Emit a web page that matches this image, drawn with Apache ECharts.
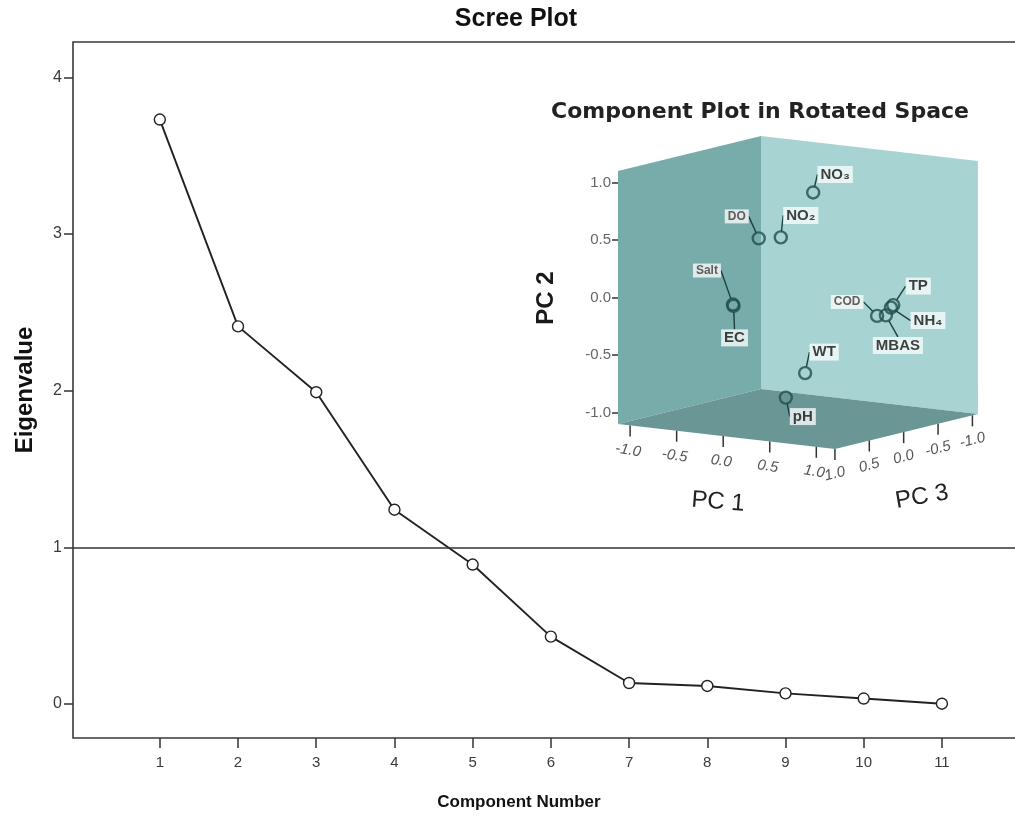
<!DOCTYPE html>
<html>
<head>
<meta charset="utf-8">
<script src="https://cdn.jsdelivr.net/npm/echarts@6/dist/echarts.min.js"></script>
<style>
html,body{margin:0;padding:0;background:#ffffff;}
#c{width:1015px;height:816px;}
</style>
</head>
<body>
<div id="c"></div>
<script>
// ---------- Scree plot data ----------
const components = [1, 2, 3, 4, 5, 6, 7, 8, 9, 10, 11];
const eigenvalues = [3.73, 2.41, 1.99, 1.24, 0.89, 0.43, 0.134, 0.115, 0.068, 0.035, 0.002];
const eigenTicks = [0, 1, 2, 3, 4];
const kaiserLine = 1;

// ---------- Component plot in rotated space (loadings) ----------
const variables = ['NO₃', 'DO', 'NO₂', 'Salt', 'EC', 'COD', 'MBAS', 'TP', 'NH₄', 'WT', 'pH'];
const pc1 = [0.25, -0.15, 0.05, -0.08, -0.07, 0.90, 0.95, 0.97, 0.96, 0.40, 0.20];
const pc2 = [0.90, 0.50, 0.52, 0.00, -0.01, -0.12, -0.12, -0.04, -0.06, -0.61, -0.84];
const pc3 = [0.03, 0.28, 0.23, 0.75, 0.755, -0.02, -0.08, -0.16, -0.14, 0.35, 0.36];
const pcTicks = [-1.0, -0.5, 0.0, 0.5, 1.0];

// ---------- layout / style (not data) ----------
const BOX = { p1: [-1.13, 1.2], p2: [-1.10, 1.10], p3: [-1.08, 1.0] };
const PX = 115;                 // pixels per PC2 unit in the inset
const E1 = [93.1, 10.7];        // screen direction of PC1 (px per unit)
const E3 = [-68.75, 16.8];      // screen direction of PC3 (px per unit)
const YOFF = (E1[1] * BOX.p1[0] + E3[1] * BOX.p3[1]) / PX;
function project(a, b, c) {
  return [(E1[0] * a + E3[0] * c) / PX, b - (E1[1] * a + E3[1] * c) / PX + YOFF];
}
const X_MIN = project(BOX.p1[0], 0, BOX.p3[1])[0];
const INSET_W = 380;

const LABEL_OFFSETS = {
  'NO₃': [22, -18], 'DO': [-22, -22], 'NO₂': [20, -22], 'Salt': [-26, -34], 'EC': [1, 32],
  'COD': [-30, -14], 'MBAS': [12, 30], 'TP': [25, -19], 'NH₄': [37, 13], 'WT': [19, -21], 'pH': [17, 19]
};
const SMALL_LABELS = { 'DO': 1, 'Salt': 1, 'COD': 1 };

const faces = [
  { color: '#78acaa', pts: [[BOX.p1[0], BOX.p2[0], BOX.p3[1]], [BOX.p1[0], BOX.p2[0], BOX.p3[0]], [BOX.p1[0], BOX.p2[1], BOX.p3[0]], [BOX.p1[0], BOX.p2[1], BOX.p3[1]]] },
  { color: '#a7d4d3', pts: [[BOX.p1[0], BOX.p2[0], BOX.p3[0]], [BOX.p1[1], BOX.p2[0], BOX.p3[0]], [BOX.p1[1], BOX.p2[1], BOX.p3[0]], [BOX.p1[0], BOX.p2[1], BOX.p3[0]]] },
  { color: '#6a9796', pts: [[BOX.p1[0], BOX.p2[0], BOX.p3[1]], [BOX.p1[1], BOX.p2[0], BOX.p3[1]], [BOX.p1[1], BOX.p2[0], BOX.p3[0]], [BOX.p1[0], BOX.p2[0], BOX.p3[0]]] }
];

const SANS = "'Liberation Sans', Arial, sans-serif";

function txt(text, x, y, size, opts) {
  opts = opts || {};
  return {
    type: 'text', x: x, y: y, rotation: opts.rotation || 0, z: 10,
    style: {
      text: text, fontSize: size, fontFamily: opts.family || SANS,
      fontWeight: opts.weight || 'bold', fontStyle: opts.style || 'normal',
      fill: opts.fill || '#111',
      align: 'center', verticalAlign: 'middle',
      textAlign: 'center', textVerticalAlign: 'middle'
    }
  };
}

const chart = echarts.init(document.getElementById('c'), null, { renderer: 'canvas' });

const option = {
  animation: false,
  backgroundColor: '#ffffff',
  grid: [
    { left: 73, top: 42, width: 944, height: 696, show: true, borderColor: '#3a3a3a', borderWidth: 1.6,
      backgroundColor: 'transparent', containLabel: false, outerBoundsMode: 'none' },
    { left: 618, top: 297.5 - 1.5 * PX, width: INSET_W, height: 3 * PX, show: false,
      containLabel: false, outerBoundsMode: 'none' }
  ],
  xAxis: [
    { gridIndex: 0, type: 'value', min: -0.11, max: 11.96,
      axisLine: { show: false, onZero: false }, splitLine: { show: false },
      axisTick: { show: true, customValues: components, length: 10, lineStyle: { color: '#333', width: 1.5 } },
      axisLabel: { show: true, customValues: components, margin: 17, fontSize: 15, color: '#3a3a3a', fontFamily: SANS } },
    { gridIndex: 1, type: 'value', min: X_MIN, max: X_MIN + INSET_W / PX, show: false,
      axisLine: { onZero: false }, splitLine: { show: false } }
  ],
  yAxis: [
    { gridIndex: 0, type: 'value', min: -0.217, max: 4.225,
      axisLine: { show: false, onZero: false }, splitLine: { show: false },
      axisTick: { show: true, customValues: eigenTicks, length: 9, lineStyle: { color: '#333', width: 1.5 } },
      axisLabel: { show: true, customValues: eigenTicks, margin: 11, fontSize: 16, color: '#3a3a3a', fontFamily: SANS } },
    { gridIndex: 1, type: 'value', min: -1.5, max: 1.5,
      axisLine: { show: false, onZero: false }, splitLine: { show: false },
      axisTick: { show: true, customValues: pcTicks, length: 6, lineStyle: { color: '#333', width: 1.5 } },
      axisLabel: { show: true, customValues: pcTicks, margin: 7, fontSize: 15, color: '#666', fontFamily: SANS,
        formatter: function (v) { return Number(v).toFixed(1); } } }
  ],
  series: [
    {
      type: 'line', xAxisIndex: 0, yAxisIndex: 0, z: 3,
      data: components.map(function (c, i) { return [c, eigenvalues[i]]; }),
      symbol: 'circle', symbolSize: 11,
      itemStyle: { color: '#ffffff', borderColor: '#222', borderWidth: 1.4 },
      lineStyle: { color: '#222', width: 1.9 },
      markLine: {
        silent: true, symbol: 'none', label: { show: false },
        lineStyle: { color: '#333', width: 1.6, type: 'solid' },
        data: [{ yAxis: kaiserLine }]
      }
    },
    {
      type: 'custom', coordinateSystem: 'cartesian2d', xAxisIndex: 1, yAxisIndex: 1, z: 1, silent: true,
      data: faces.map(function (f, i) { return [i, 0]; }),
      renderItem: function (params, api) {
        const f = faces[params.dataIndex];
        return {
          type: 'polygon',
          shape: { points: f.pts.map(function (p) { return api.coord(project(p[0], p[1], p[2])); }) },
          style: { fill: f.color, stroke: null }
        };
      }
    },
    {
      type: 'custom', coordinateSystem: 'cartesian2d', xAxisIndex: 1, yAxisIndex: 1, z: 2, silent: true,
      data: pcTicks.map(function (v) { return [v, 0]; }),
      renderItem: function (params, api) {
        const v = pcTicks[params.dataIndex];
        const p = api.coord(project(v, BOX.p2[0], BOX.p3[1]));
        return {
          type: 'group', children: [
            { type: 'line', shape: { x1: p[0], y1: p[1], x2: p[0], y2: p[1] + 11 }, style: { stroke: '#333', lineWidth: 1.5 } },
            { type: 'text', x: p[0] - 2, y: p[1] + 25, rotation: -0.15,
              style: { text: v.toFixed(1), fontSize: 15, fontStyle: 'italic', fontFamily: SANS, fill: '#555',
                align: 'center', verticalAlign: 'middle' } }
          ]
        };
      }
    },
    {
      type: 'custom', coordinateSystem: 'cartesian2d', xAxisIndex: 1, yAxisIndex: 1, z: 2, silent: true,
      data: pcTicks.map(function (v) { return [v, 0]; }),
      renderItem: function (params, api) {
        const v = pcTicks[params.dataIndex];
        const p = api.coord(project(BOX.p1[1], BOX.p2[0], v));
        return {
          type: 'group', children: [
            { type: 'line', shape: { x1: p[0], y1: p[1], x2: p[0], y2: p[1] + 11 }, style: { stroke: '#333', lineWidth: 1.5 } },
            { type: 'text', x: p[0], y: p[1] + 25, rotation: 0.25,
              style: { text: v.toFixed(1), fontSize: 15, fontStyle: 'italic', fontFamily: SANS, fill: '#555',
                align: 'center', verticalAlign: 'middle' } }
          ]
        };
      }
    },
    {
      type: 'scatter', xAxisIndex: 1, yAxisIndex: 1, z: 5,
      symbol: 'circle', symbolSize: 12,
      itemStyle: { color: 'rgba(0,0,0,0)', borderColor: '#1f4f4d', borderWidth: 2.4 },
      data: variables.map(function (n, i) {
        const item = { name: n, value: project(pc1[i], pc2[i], pc3[i]) };
        if (SMALL_LABELS[n]) item.label = { fontSize: 12, color: '#4a3434' };
        return item;
      }),
      label: {
        show: true, position: 'inside', formatter: '{b}',
        fontFamily: SANS, fontWeight: 'bold', fontSize: 15, color: '#111',
        backgroundColor: '#f6fbfb', padding: [1, 3]
      },
      labelLayout: function (params) {
        const o = LABEL_OFFSETS[variables[params.dataIndex]];
        return { dx: o[0], dy: o[1] };
      },
      labelLine: { show: true, length2: 0, lineStyle: { color: '#1f3f3e', width: 1.4 } }
    }
  ],
  graphic: [
    txt('Scree Plot', 516, 19, 25),
    txt('Component Number', 519, 802, 17),
    txt('Eigenvalue', 25, 390, 24, { rotation: Math.PI / 2 }),
    txt('Component Plot in Rotated Space', 760, 112, 22, { family: "'DejaVu Sans', sans-serif", fill: '#222' }),
    txt('PC 2', 546, 298, 24, { rotation: Math.PI / 2, fill: '#1a1a1a' }),
    txt('PC 1', 718, 502, 24, { rotation: -0.08, weight: 'normal', fill: '#222' }),
    txt('PC 3', 922, 497, 24, { rotation: 0.17, weight: 'normal', fill: '#222' })
  ]
};

chart.setOption(option);
</script>
</body>
</html>
